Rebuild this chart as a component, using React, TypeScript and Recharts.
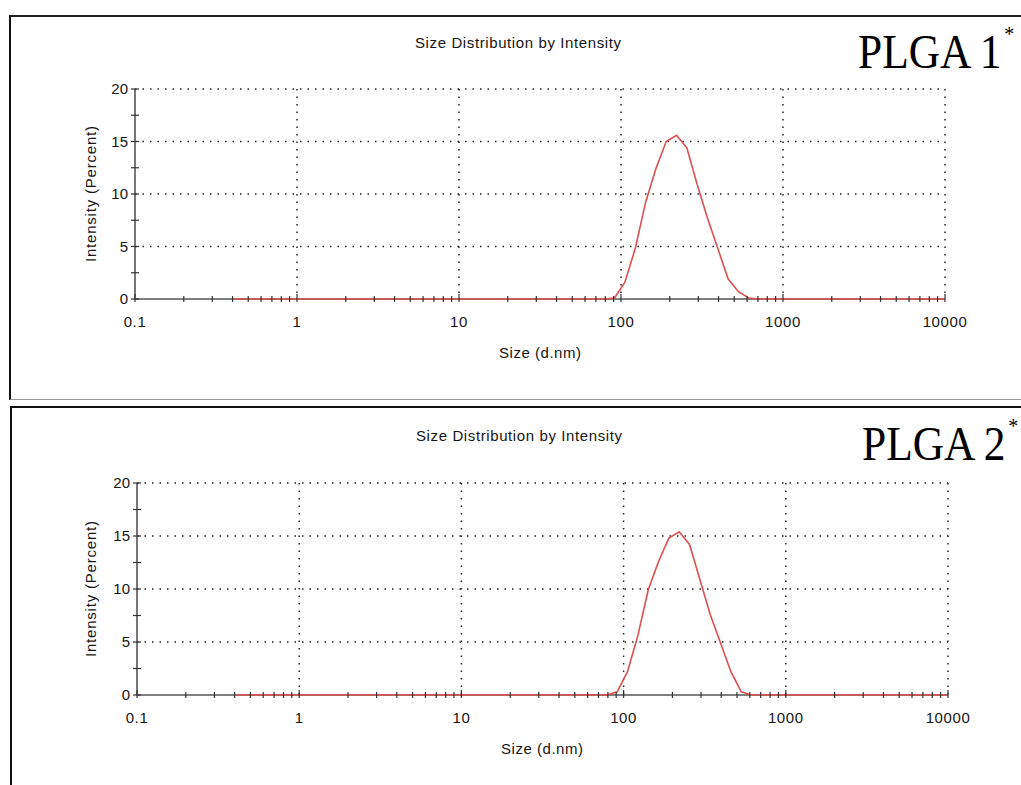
import React from 'react';
import { LineChart, Line, XAxis, YAxis, CartesianGrid } from 'recharts';

// size bins (d.nm), plus the flat ends of the trace
const sizeBins = [0.4, 78.8, 91.3, 105.7, 122.4, 141.8, 164.2, 190.1, 220.2, 255, 295.3, 342, 396.1, 458.7, 531.2, 615.1, 712.4, 825, 10000];
const plga1Intensity = [0, 0, 0.1, 1.6, 4.8, 9.2, 12.4, 15.0, 15.6, 14.4, 10.9, 7.7, 4.8, 1.9, 0.7, 0.1, 0, 0, 0];
const plga2Intensity = [0, 0, 0.3, 2.2, 5.6, 9.9, 12.6, 14.8, 15.4, 14.2, 10.9, 7.6, 4.9, 2.2, 0.3, 0, 0, 0, 0];

const xDecades = [0.1, 1, 10, 100, 1000, 10000];
const xMinorSteps = [1, 2, 3, 4, 5, 6, 7, 8, 9];
const yTicks = [0, 2.5, 5, 7.5, 10, 12.5, 15, 17.5, 20];
const yLabelled = [0, 5, 10, 15, 20];

const xTicks = xDecades
    .slice(0, -1)
    .flatMap((d) => xMinorSteps.map((s) => Number((d * s).toPrecision(3))))
    .concat([10000]);

const FONT = '"Liberation Sans", Arial, sans-serif';
const SERIF = '"Liberation Serif", "Times New Roman", serif';
const TEXT = '#151515';
const AXIS = '#555';

const XTick = (props: any) => {
    const { x, y, payload } = props;
    const major = xDecades.includes(payload.value);
    return (
        <g>
            <line x1={x} x2={x} y1={y - (major ? 5 : 3)} y2={y + 3} stroke="#333" strokeWidth={1.2} />
            {major && (
                <text x={x} y={y + 28} textAnchor="middle" fontFamily={FONT} fontSize={15} fill={TEXT} letterSpacing={0.6}>
                    {String(payload.value)}
                </text>
            )}
        </g>
    );
};

const YTick = (props: any) => {
    const { x, y, payload } = props;
    const major = yLabelled.includes(payload.value);
    return (
        <g>
            <line x1={x - 4} x2={x + 4} y1={y} y2={y} stroke="#333" strokeWidth={1.2} />
            {major && (
                <text x={x - 7} y={y + 5} textAnchor="end" fontFamily={FONT} fontSize={15} fill={TEXT}>
                    {String(payload.value)}
                </text>
            )}
        </g>
    );
};

interface PanelProps {
    top: number;
    height: number;
    values: number[];
    name: string;
    margin: { top: number; right: number; bottom: number; left: number };
    title: [number, number];
    tag: [number, number];
    yLabel: [number, number];
    xLabel: [number, number];
}

const Panel: React.FC<PanelProps> = ({ top, height, values, name, margin, title, tag, yLabel, xLabel }) => {
    const data = sizeBins.map((size, i) => ({ size, intensity: values[i] }));
    return (
        <div style={{ position: 'absolute', left: 0, top, width: 1021, height }}>
            <LineChart width={1021} height={height} data={data} margin={margin}>
                <CartesianGrid
                    stroke="#222"
                    strokeWidth={1.5}
                    strokeDasharray="1.5 6"
                    horizontalValues={[5, 10, 15, 20]}
                    verticalValues={[1, 10, 100, 1000, 10000]}
                />
                {/* solid axis lines drawn as grid so the trace sits on top of them */}
                <CartesianGrid stroke={AXIS} strokeWidth={1.6} horizontalValues={[0]} verticalValues={[0.1]} />
                <XAxis
                    dataKey="size"
                    type="number"
                    scale="log"
                    domain={[0.1, 10000]}
                    ticks={xTicks}
                    interval={0}
                    tick={<XTick />}
                    tickLine={false}
                    tickSize={0}
                    tickMargin={0}
                    height={40}
                    axisLine={false}
                />
                <YAxis
                    type="number"
                    domain={[0, 20]}
                    ticks={yTicks}
                    interval={0}
                    tick={<YTick />}
                    tickLine={false}
                    tickSize={0}
                    tickMargin={0}
                    width={60}
                    axisLine={false}
                />
                <Line
                    type="linear"
                    dataKey="intensity"
                    stroke="#df4f4f"
                    strokeWidth={1.6}
                    dot={false}
                    isAnimationActive={false}
                />
            </LineChart>
            <svg width={1021} height={height} style={{ position: 'absolute', left: 0, top: 0, pointerEvents: 'none' }}>
                <text x={title[0]} y={title[1]} textAnchor="middle" fontFamily={FONT} fontSize={15} fill={TEXT} textLength={206} lengthAdjust="spacing">
                    Size Distribution by Intensity
                </text>
                <text transform={`translate(${tag[0]} ${tag[1]}) scale(0.905 1)`} fontFamily={SERIF} fontSize={48} fill="#000">
                    {name}
                    <tspan dx={3} dy={-27} fontSize={22}>*</tspan>
                </text>
                <text
                    x={yLabel[0]}
                    y={yLabel[1]}
                    transform={`rotate(-90 ${yLabel[0]} ${yLabel[1]})`}
                    textAnchor="middle"
                    dominantBaseline="central"
                    fontFamily={FONT}
                    fontSize={15}
                    fill={TEXT}
                    textLength={136}
                    lengthAdjust="spacing"
                >
                    Intensity (Percent)
                </text>
                <text x={xLabel[0]} y={xLabel[1]} textAnchor="middle" fontFamily={FONT} fontSize={15} fill={TEXT} textLength={82} lengthAdjust="spacing">
                    Size (d.nm)
                </text>
            </svg>
        </div>
    );
};

export default function App() {
    return (
        <div style={{ position: 'absolute', left: 0, top: 0, width: 1021, height: 785, overflow: 'hidden', background: '#fff' }}>
            <div
                style={{
                    position: 'absolute',
                    left: 9,
                    top: 15,
                    width: 1040,
                    height: 382,
                    borderLeft: '2px solid #111',
                    borderTop: '2px solid #222',
                    borderBottom: '1px solid #999',
                }}
            />
            <div
                style={{
                    position: 'absolute',
                    left: 10,
                    top: 406,
                    width: 1040,
                    height: 420,
                    borderLeft: '2px solid #111',
                    borderTop: '2px solid #111',
                }}
            />
            <Panel
                top={0}
                height={400}
                values={plga1Intensity}
                name="PLGA 1"
                margin={{ top: 89, right: 76, bottom: 61, left: 75 }}
                title={[518, 48]}
                tag={[858, 68]}
                yLabel={[90, 194]}
                xLabel={[540, 358]}
            />
            <Panel
                top={400}
                height={385}
                values={plga2Intensity}
                name="PLGA 2"
                margin={{ top: 83, right: 73, bottom: 50, left: 77 }}
                title={[519, 41]}
                tag={[862, 60]}
                yLabel={[90, 189]}
                xLabel={[542, 354]}
            />
        </div>
    );
}
